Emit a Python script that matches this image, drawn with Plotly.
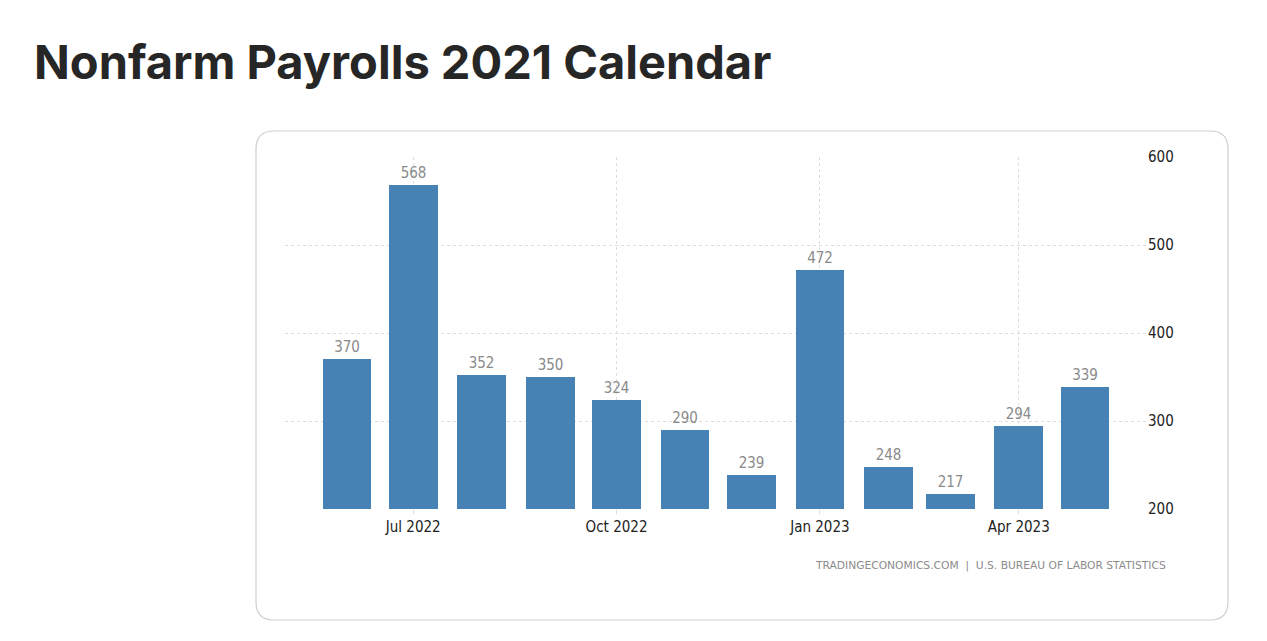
import plotly.graph_objects as go

months = ["2022-06-01", "2022-07-01", "2022-08-01", "2022-09-01", "2022-10-01", "2022-11-01",
          "2022-12-01", "2023-01-01", "2023-02-01", "2023-03-01", "2023-04-01", "2023-05-01"]
payrolls = [370, 568, 352, 350, 324, 290, 239, 472, 248, 217, 294, 339]
x_tick_vals = ["2022-07-01", "2022-10-01", "2023-01-01", "2023-04-01"]
x_tick_text = ["Jul 2022", "Oct 2022", "Jan 2023", "Apr 2023"]
y_ticks = [200, 300, 400, 500, 600]

OFF = 8  # page body margin
W, H = 1267 - 2 * OFF, 641 - 2 * OFF
L, R, T, B = 285 - OFF, 1147 - OFF, 157 - OFF, 509 - OFF

FONT = "DejaVu Sans Condensed, DejaVu Sans"

fig = go.Figure(go.Bar(
    x=months, y=payrolls,
    width=[22 * 86400000] * len(months),
    marker=dict(color="#4682b4", line=dict(width=0)),
    text=[str(v) for v in payrolls], textposition="outside",
    textfont=dict(family=FONT, size=15, color="#8a8a8a"),
    cliponaxis=False,
))

def px(xp):
    return (xp - OFF - L) / (R - L)

def py(yp):
    return (B - (yp - OFF)) / (B - T)

x0, x1, y0, y1, r = 256, 1228, 131, 620, 18
path = (f"M {px(x0 + r)} {py(y0)} L {px(x1 - r)} {py(y0)} Q {px(x1)} {py(y0)} {px(x1)} {py(y0 + r)} "
        f"L {px(x1)} {py(y1 - r)} Q {px(x1)} {py(y1)} {px(x1 - r)} {py(y1)} "
        f"L {px(x0 + r)} {py(y1)} Q {px(x0)} {py(y1)} {px(x0)} {py(y1 - r)} "
        f"L {px(x0)} {py(y0 + r)} Q {px(x0)} {py(y0)} {px(x0 + r)} {py(y0)} Z")

fig.update_layout(
    width=W, height=H,
    margin=dict(l=L, r=W - R, t=T, b=H - B, pad=0),
    paper_bgcolor="white", plot_bgcolor="white",
    showlegend=False,
    bargap=0,
    shapes=[dict(type="path", xref="paper", yref="paper", path=path,
                 line=dict(color="#cfcfcf", width=1.2), fillcolor="rgba(0,0,0,0)", layer="below")],
    annotations=[
        dict(text="<b>Nonfarm Payrolls 2021 Calendar</b>", xref="paper", yref="paper",
             x=px(32), y=py(61), xanchor="left", yanchor="middle", showarrow=False,
             font=dict(family="Inter, Lato, sans-serif", size=47, color="#262626")),
        dict(text="TRADINGECONOMICS.COM  |  U.S. BUREAU OF LABOR STATISTICS", xref="paper", yref="paper",
             x=px(1168), y=py(565), xanchor="right", yanchor="middle", showarrow=False,
             font=dict(family="DejaVu Sans", size=10.7, color="#8c8c8c")),
    ],
    xaxis=dict(
        type="date", range=["2022-05-04", "2023-05-29"],
        tickvals=x_tick_vals, ticktext=x_tick_text,
        tickfont=dict(family=FONT, size=15, color="#222"),
        showgrid=True, gridcolor="#dcdcdc", griddash="dot", gridwidth=1,
        ticks="outside", ticklen=4, tickcolor="#dcdcdc",
        showline=False, zeroline=False,
    ),
    yaxis=dict(
        side="right", range=[200, 600], tickvals=y_ticks,
        tickfont=dict(family=FONT, size=15, color="#222"),
        showgrid=True, gridcolor="#dcdcdc", griddash="dot", gridwidth=1,
        ticks="",
        showline=False, zeroline=False,
    ),
)

fig.write_html("out.html")
